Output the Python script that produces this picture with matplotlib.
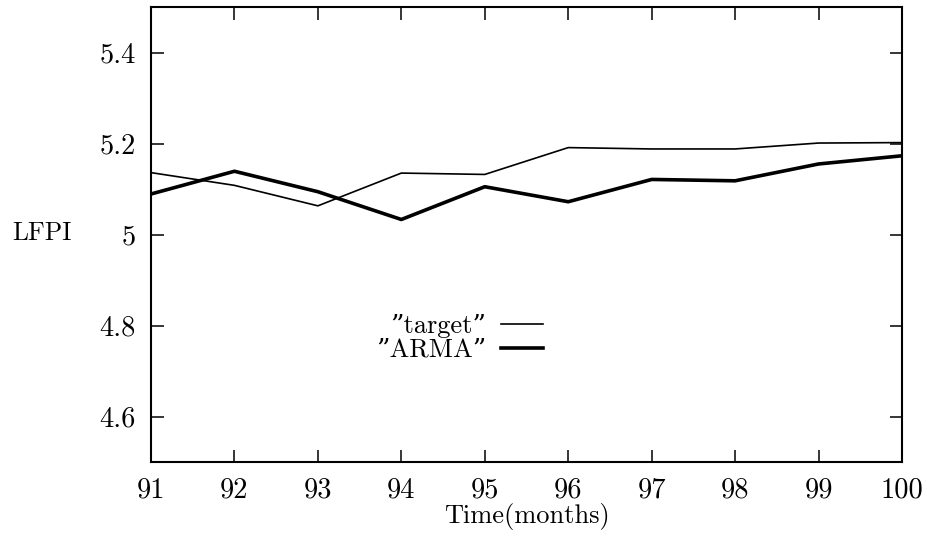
import matplotlib
matplotlib.use("Agg")
import matplotlib.pyplot as plt

months = [91, 92, 93, 94, 95, 96, 97, 98, 99, 100]
target = [5.136, 5.108, 5.063, 5.135, 5.132, 5.191, 5.188, 5.188, 5.201, 5.202]
arma = [5.089, 5.139, 5.094, 5.033, 5.105, 5.072, 5.121, 5.118, 5.155, 5.173]
yticks = [4.6, 4.8, 5.0, 5.2, 5.4]
yticklabels = ["4.6", "4.8", "5", "5.2", "5.4"]

plt.rcParams['font.family'] = ['cmr10', 'DejaVu Serif']
plt.rcParams['axes.formatter.use_mathtext'] = True

fig = plt.figure(figsize=(9.27, 5.37), dpi=100)
ax = fig.add_axes([151/927, 75/537, (902-151)/927, (462-7)/537])

ax.plot(months, target, color='black', lw=1.2, label='\u201dtarget\u201d')
ax.plot(months, arma, color='black', lw=2.6, label='\u201dARMA\u201d')

ax.set_xlim(91, 100)
ax.set_ylim(4.5, 5.5)
ax.set_xticks(months)
ax.set_xticklabels([str(m) for m in months])
ax.set_yticks(yticks)
ax.set_yticklabels(yticklabels)
ax.tick_params(direction='in', length=9, width=1.1, top=True, right=True, labelsize=20.5)
ax.tick_params(axis='x', pad=11)
ax.tick_params(axis='y', pad=11)
for s in ax.spines.values():
    s.set_linewidth(1.5)

leg = ax.legend(loc='center right', bbox_to_anchor=(543/927, 1 - 338/537),
                bbox_transform=fig.transFigure, frameon=False, markerfirst=False,
                borderpad=0, borderaxespad=0,
                handlelength=1.6, handletextpad=0.55, labelspacing=0.0, fontsize=19)

fig.text(12/927, 1 - 233/537, 'LFPI', ha='left', va='center', fontsize=18.5)
fig.text(527/927, 1 - 516/537, 'Time(months)', ha='center', va='center', fontsize=19)

fig.savefig('out.png', dpi=100)
